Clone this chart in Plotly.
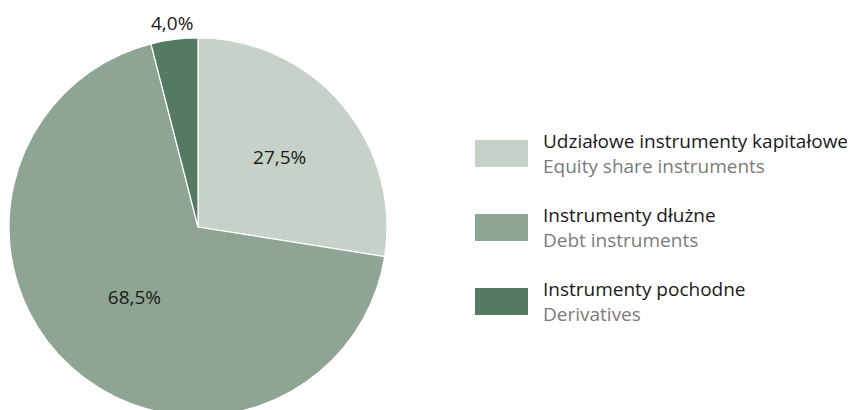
import math
import plotly.graph_objects as go

labels_pl = ["Udziałowe instrumenty kapitałowe", "Instrumenty dłużne", "Instrumenty pochodne"]
labels_en = ["Equity share instruments", "Debt instruments", "Derivatives"]
values = [27.5, 68.5, 4.0]
colors = ["#c6d2c8", "#8fa594", "#557a63"]
text_pos = ["inside", "inside", "none"]

W, H = 870, 420
OFF = 8  # page body margin offset
FONT = "Open Sans"
FS = 19

def px_x(x):
    return (x - OFF) / W

def px_y(y):
    return 1 - (y - OFF) / H

# pie geometry (page pixels)
CX, CY, R = 198, 227, 189

fig = go.Figure()
fig.add_trace(go.Pie(
    labels=labels_pl,
    values=values,
    sort=False,
    direction="clockwise",
    rotation=0,
    marker=dict(colors=colors, line=dict(color="white", width=1.2)),
    texttemplate="%{percent:.1%}",
    textposition=text_pos,
    textfont=dict(family=FONT, size=FS, color="#1a1a1a"),
    insidetextorientation="horizontal",
    showlegend=False,
    hoverinfo="label+percent",
    domain=dict(x=[px_x(CX - R), px_x(CX + R)], y=[px_y(CY + R), px_y(CY - R)]),
))

# outside label for the small slice, centred above its mid-angle
total = sum(values)
cum = 0.0
for i, v in enumerate(values):
    mid = (cum + v / 2) / total * 2 * math.pi
    cum += v
    if text_pos[i] == "none":
        lx = CX + 1.09 * R * math.sin(mid)
        ly = CY - 1.09 * R * math.cos(mid)
        fig.add_annotation(xref="paper", yref="paper", x=px_x(lx), y=px_y(ly),
                           xanchor="center", yanchor="middle", showarrow=False,
                           text=f"{v / total * 100:.1f}%".replace(".", ","),
                           font=dict(family=FONT, size=FS, color="#1a1a1a"))

# custom legend
top = 153.5
step = 74
for i, (pl, en, c) in enumerate(zip(labels_pl, labels_en, colors)):
    yc = top + i * step
    fig.add_shape(type="rect", xref="paper", yref="paper",
                  x0=px_x(475), x1=px_x(528), y0=px_y(yc - 13.5), y1=px_y(yc + 13.5),
                  fillcolor=c, line=dict(width=0))
    fig.add_annotation(xref="paper", yref="paper", x=px_x(541), y=px_y(yc),
                       xanchor="left", yanchor="middle", align="left", showarrow=False,
                       text=f"{pl}<br><span style='color:#7b7b7b'>{en}</span>",
                       font=dict(family=FONT, size=FS, color="#1a1a1a"))

fig.update_layout(
    width=W, height=H,
    margin=dict(l=0, r=0, t=0, b=0),
    paper_bgcolor="white",
    plot_bgcolor="white",
    separators=",.",
    font=dict(family=FONT),
)

fig.write_html("out.html")
